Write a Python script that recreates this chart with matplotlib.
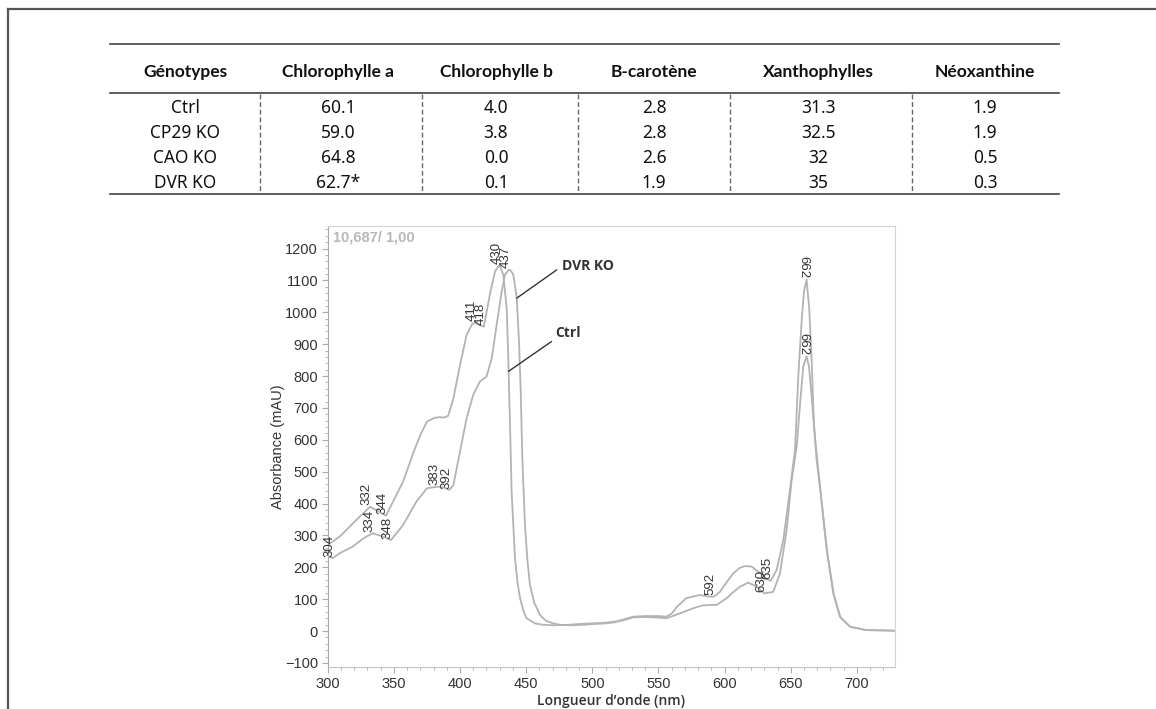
import numpy as np
import matplotlib.pyplot as plt
from matplotlib.ticker import MultipleLocator

# table content
headers = ['Génotypes', 'Chlorophylle a', 'Chlorophylle b', 'B-carotène', 'Xanthophylles', 'Néoxanthine']
genotypes = ['Ctrl', 'CP29 KO', 'CAO KO', 'DVR KO']
chl_a = ['60.1', '59.0', '64.8', '62.7*']
chl_b = ['4.0', '3.8', '0.0', '0.1']
b_carotene = ['2.8', '2.8', '2.6', '1.9']
xanthophylles = ['31.3', '32.5', '32', '35']
neoxanthine = ['1.9', '1.9', '0.5', '0.3']

# spectra (nm, mAU)
wl_ctrl = [300, 309, 319, 332, 344, 357, 365, 370, 375, 380, 384, 388, 391, 395, 400, 405,
           409, 411, 414, 418, 423, 426.5, 429, 430, 432.7, 435.3, 436.5, 437.8, 439, 441.6,
           443.5, 445.4, 448, 450.4, 456.7, 462, 470, 480, 490, 500, 510, 518, 525, 531, 540,
           550, 556, 560, 564, 571, 581, 588, 592, 596.5, 601, 606.6, 611, 615.4, 620.5, 627,
           632, 635, 639.4, 644.4, 649.4, 653.2, 655.7, 658.3, 660, 662, 664, 665.8, 667.5,
           669.5, 672.3, 677.2, 682.2, 687.2, 694.8, 707, 729]
abs_ctrl = [270, 296, 338, 390, 362, 469, 563, 615, 657, 668, 671, 670, 675, 730, 835, 929,
            962, 968, 962, 955, 1065, 1128, 1145, 1147, 1118, 1013, 856, 647, 437, 228,
            150, 103, 62, 40, 24, 20, 18, 19, 22, 24, 26, 30, 38, 45, 47,
            47, 45, 55, 76, 103, 113, 108, 108, 123, 150, 181, 197, 204, 202, 181,
            162, 158, 192, 286, 443, 568, 798, 976, 1065, 1103, 1010, 851, 650,
            540, 443, 254, 118, 45, 14, 3, 1]

wl_dvr = [300, 304, 309, 319, 327, 334, 342, 348, 357, 367, 375, 383, 388, 392, 395, 400,
          405, 410, 415, 420, 424, 427.7, 431.5, 434, 437, 438.5, 440.3, 442.9, 444.6, 445.9,
          447.1, 449.1, 451, 452.9, 456, 460.5, 465, 470.5, 476, 485, 495, 501, 510, 516, 522,
          531, 540, 550, 556, 566, 576, 583, 589, 594, 601.6, 606, 611.6, 617.9, 624.3, 630,
          636.8, 641.9, 646.9, 650.7, 654.5, 657.5, 659.5, 662, 663.8, 665.8, 668.3, 670.5,
          673, 677.5, 682.5, 687.5, 695, 707, 729]
abs_dvr = [234, 229, 244, 265, 291, 307, 296, 286, 333, 406, 448, 453, 450, 443, 458, 563,
           668, 741, 783, 798, 856, 961, 1065, 1118, 1134, 1130, 1118, 1045, 908, 751,
           542, 333, 220, 144, 90, 50, 32, 24, 19, 18, 20, 22, 24, 27, 32,
           43, 44, 42, 40, 55, 71, 80, 82, 82, 103, 120, 139, 152, 139, 118,
           123, 181, 317, 474, 579, 736, 830, 862, 830, 736, 609, 520,
           420, 250, 115, 43, 13, 3, 1]

peaks_ctrl = [332, 344, 411, 418, 430, 592, 635, 662]
peaks_dvr = [304, 334, 348, 383, 392, 437, 630, 662]

fig = plt.figure(figsize=(11.56, 7.09), dpi=100)

# page overlay in pixel units for the frame and the table
page = fig.add_axes([0, 0, 1, 1])
page.set_xlim(0, 1156)
page.set_ylim(709, 0)
page.axis('off')

page.plot([8, 1156], [9, 9], color='#555555', lw=1.6)
page.plot([8, 8], [9, 709], color='#555555', lw=1.6)

for yy in [44, 93, 194]:
    page.plot([110, 1059], [yy, yy], color='#444444', lw=1.2)
for xx in [260, 422, 578, 730, 912]:
    page.plot([xx, xx], [94, 193], color='#666666', lw=1.0, linestyle=(0, (3.5, 2)))

col_x = [185, 338, 496, 654, 818, 985]
row_y = [108, 133, 158, 183]
columns = [genotypes, chl_a, chl_b, b_carotene, xanthophylles, neoxanthine]
for cx, head, vals in zip(col_x, headers, columns):
    page.text(cx, 72, head, ha='center', va='center', fontsize=12.5, fontweight='bold',
              family=['Lato', 'DejaVu Sans'], color='#111111')
    for ry, v in zip(row_y, vals):
        page.text(cx, ry, v, ha='center', va='center', fontsize=12.5,
                  family=['Noto Sans', 'DejaVu Sans'], color='#111111')

# spectrum
ax = fig.add_axes([0.2835, 0.0592, 0.4907, 0.6225])
ax.plot(wl_ctrl, abs_ctrl, color='#b3b3b3', lw=1.3)
ax.plot(wl_dvr, abs_dvr, color='#b3b3b3', lw=1.3)
ax.set_xlim(300, 728.8)
ax.set_ylim(-113, 1272)

ax.xaxis.set_major_locator(MultipleLocator(50))
ax.xaxis.set_minor_locator(MultipleLocator(10))
ax.yaxis.set_major_locator(MultipleLocator(100))
ax.yaxis.set_minor_locator(MultipleLocator(20))
ax.tick_params(which='both', direction='out', color='#aaaaaa', labelcolor='#333333',
               labelsize=10.5)
ax.tick_params(which='major', length=4, pad=3)
ax.tick_params(which='minor', length=2.5)
for lab in ax.get_xticklabels() + ax.get_yticklabels():
    lab.set_family(['Liberation Sans', 'DejaVu Sans'])
ax.spines['left'].set_color('#aaaaaa')
ax.spines['bottom'].set_color('#c4c4c4')
ax.spines['top'].set_color('#d4d4d4')
ax.spines['right'].set_color('#d4d4d4')

ax.set_ylabel('Absorbance (mAU)', fontsize=10.5, color='#333333',
              family=['Liberation Sans', 'DejaVu Sans'], labelpad=0)
ax.set_xlabel('Longueur d\u2019onde (nm)', fontsize=10, color='#333333', fontweight='semibold',
              family=['Open Sans', 'DejaVu Sans'], labelpad=2)

ax.text(0.01, 0.99, '10,687/ 1,00', transform=ax.transAxes, ha='left', va='top',
        fontsize=10.5, fontweight='bold', color='#b8b8b8', family=['Liberation Sans', 'DejaVu Sans'])

for peaks, wl, ab in [(peaks_ctrl, wl_ctrl, abs_ctrl), (peaks_dvr, wl_dvr, abs_dvr)]:
    for p in peaks:
        yv = np.interp(p, wl, ab)
        rot = -90 if p == 662 else 90
        ax.text(p - 2.5, yv + 4, str(p), rotation=rot, ha='center', va='bottom',
                fontsize=9.5, color='#333333', family=['Liberation Sans', 'DejaVu Sans'])

# curve names with leader lines
ax.plot([473, 443], [1133, 1045], color='#333333', lw=1.0)
ax.text(477, 1145, 'DVR KO', ha='left', va='center', fontsize=10, fontweight='bold',
        color='#333333', family=['Open Sans', 'DejaVu Sans'])
ax.plot([469, 436.7], [908, 815], color='#333333', lw=1.0)
ax.text(472, 936, 'Ctrl', ha='left', va='center', fontsize=10, fontweight='bold',
        color='#333333', family=['Open Sans', 'DejaVu Sans'])

fig.savefig('out.png', dpi=100)
